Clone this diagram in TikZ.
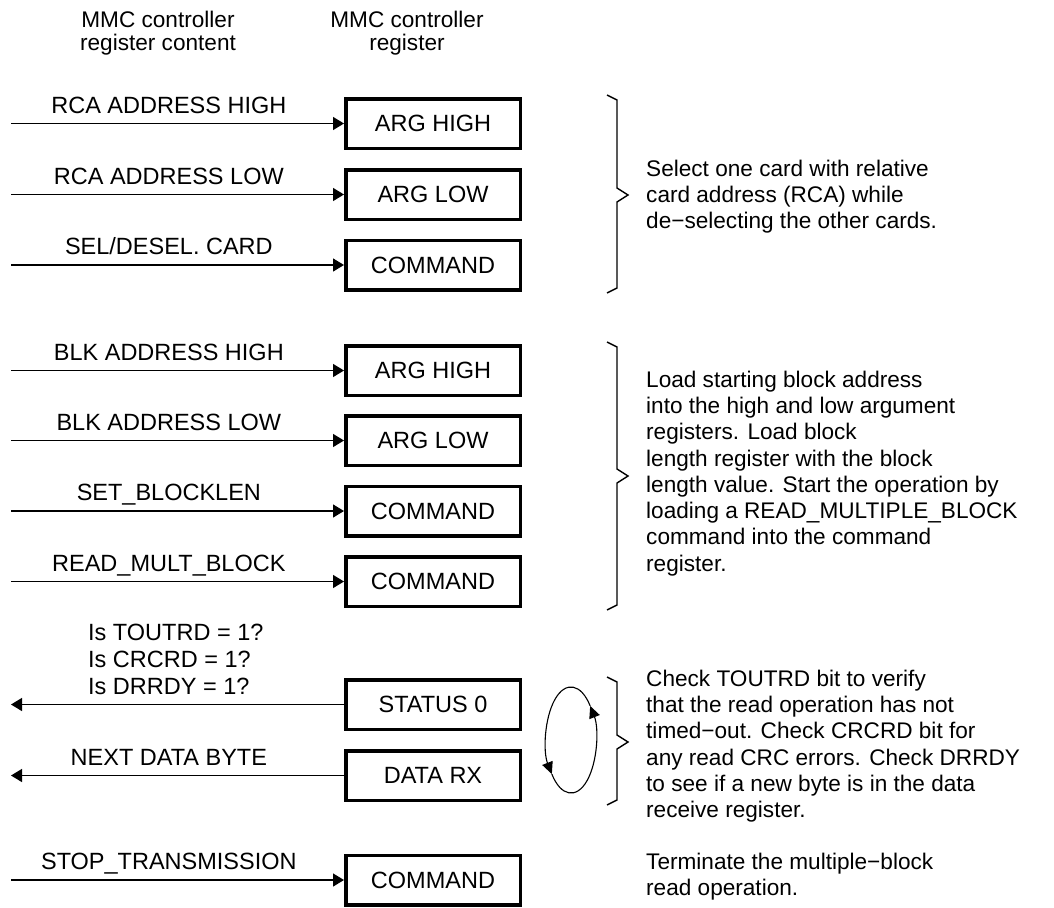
\documentclass[tikz,border=0pt]{standalone}
\usepackage{fontspec}
\setmainfont{Liberation Sans}
\usetikzlibrary{arrows.meta}
\newcommand\drawbrace[3]{\draw[bracepath] (607,#1) -- (617,#1+5) -- (617,#2-7) -- (628,#2) -- (617,#2+7) -- (617,#3-5) -- (607,#3);}
\begin{document}
\begin{tikzpicture}[x=1pt,y=-1pt,
  reg/.style={draw, line width=3.5pt, minimum width=174.5pt, minimum height=49.5pt, inner sep=0pt, font=\fontsize{23.5}{28}\selectfont},
  lab/.style={font=\fontsize{23.5}{28}\selectfont, anchor=base, inner sep=0pt, yshift=10.5pt},
  desc/.style={font=\fontsize{22.6}{26.3}\selectfont, align=left, anchor=north west, inner sep=0pt},
  head/.style={font=\fontsize{22.6}{23.5}\selectfont, align=center, anchor=north, inner sep=0pt},
  conn/.style={line width=1.3pt, -{Triangle[length=11pt,width=13pt]}},
  bracepath/.style={line width=1.4pt, line join=miter},
  loop/.style={line width=1.1pt, -{Triangle[length=12pt,width=11pt]}}]
\useasboundingbox (0,0) rectangle (1054,907);

% headers
\node[head] (h1) at (158,10.8) {MMC controller\\register content};
\node[head] (h2) at (407,10.8) {MMC controller\\register};

% group 1
\node[reg] (a1) at (433,123.5) {ARG HIGH};
\node[reg] (a2) at (433,194.5) {ARG LOW};
\node[reg] (a3) at (433,265) {COMMAND};
\coordinate (s1) at (11,123.5);
\coordinate (s2) at (11,194.5);
\coordinate (s3) at (11,265);
\draw[conn] (s1) -- node[lab, pos=.474] {RCA ADDRESS HIGH} (a1);
\draw[conn] (s2) -- node[lab, pos=.474] {RCA ADDRESS LOW} (a2);
\draw[conn] (s3) -- node[lab, pos=.474] {SEL/DESEL. CARD} (a3);
\drawbrace{95}{195}{293}
\node[desc] (d1) at (646,159.6) {Select one card with relative\\card address (RCA) while\\de−selecting the other cards.};

% group 2
\node[reg] (b1) at (433,370.5) {ARG HIGH};
\node[reg] (b2) at (433,440.5) {ARG LOW};
\node[reg] (b3) at (433,511) {COMMAND};
\node[reg] (b4) at (433,581.5) {COMMAND};
\coordinate (t1) at (11,370.5);
\coordinate (t2) at (11,440.5);
\coordinate (t3) at (11,511);
\coordinate (t4) at (11,581.5);
\draw[conn] (t1) -- node[lab, pos=.474] {BLK ADDRESS HIGH} (b1);
\draw[conn] (t2) -- node[lab, pos=.474] {BLK ADDRESS LOW} (b2);
\draw[conn] (t3) -- node[lab, pos=.474] {SET\_BLOCKLEN} (b3);
\draw[conn] (t4) -- node[lab, pos=.474] {READ\_MULT\_BLOCK} (b4);
\drawbrace{342}{476}{610}
\node[desc] (d2) at (646,370.6) {Load starting block address\\into the high and low argument\\registers. Load block\\length register with the block\\length value. Start the operation by\\loading a READ\_MULTIPLE\_BLOCK\\command into the command\\register.};

% group 3
\node[reg] (c1) at (433,704.5) {STATUS 0};
\node[reg] (c2) at (433,775.5) {DATA RX};
\coordinate (o1) at (11,704.5);
\coordinate (o2) at (11,775.5);
\draw[conn] (c1) -- (o1);
\draw[conn] (c2) -- node[lab, pos=.526] {NEXT DATA BYTE} (o2);
\node[desc, font=\fontsize{23.5}{27}\selectfont] (q) at (88,624) {Is TOUTRD = 1?\\Is CRCRD = 1?\\Is DRRDY = 1?};
\coordinate (lc) at (571,740);
\draw[loop] ([shift={(140:25pt and -53pt)}]lc) arc[start angle=140, end angle=-40, x radius=25, y radius=53];
\draw[loop] ([shift={(-40:25pt and -53pt)}]lc) arc[start angle=-40, end angle=-220, x radius=25, y radius=53];
\drawbrace{677}{742}{805}
\node[desc] (d3) at (646,669.6) {Check TOUTRD bit to verify\\that the read operation has not\\timed−out. Check CRCRD bit for\\any read CRC errors. Check DRRDY\\to see if a new byte is in the data\\receive register.};

% group 4
\node[reg] (e1) at (433,880) {COMMAND};
\coordinate (u1) at (11,880);
\draw[conn] (u1) -- node[lab, pos=.474] {STOP\_TRANSMISSION} (e1);
\node[desc] (d4) at (646,852.5) {Terminate the multiple−block\\read operation.};
\end{tikzpicture}
\end{document}
